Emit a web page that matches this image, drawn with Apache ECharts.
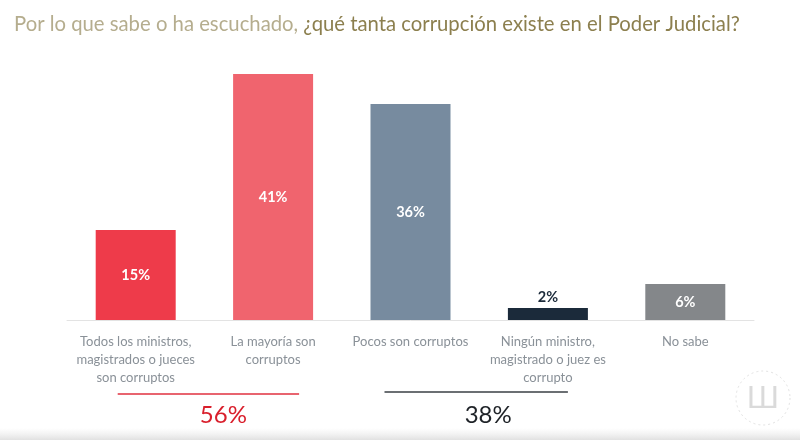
<!DOCTYPE html>
<html><head><meta charset="utf-8">
<script src="https://cdn.jsdelivr.net/npm/echarts@6/dist/echarts.min.js"></script>
<style>html,body{margin:0;padding:0;background:#fff}#c{width:800px;height:440px}</style>
</head><body><div id="c"></div>
<script>
const categories = ["Todos los ministros,\nmagistrados o jueces\nson corruptos", "La mayoría son\ncorruptos", "Pocos son corruptos", "Ningún ministro,\nmagistrado o juez es\ncorrupto", "No sabe"];
const values = [15, 41, 36, 2, 6];
const barColors = ["#EE3B4A", "#F0646E", "#778B9F", "#1B2A3A", "#84878A"];
const groupTotals = ["56%", "38%"];
const titleLight = "Por lo que sabe o ha escuchado, ";
const titleDark = "¿qué tanta corrupción existe en el Poder Judicial?";

const chart = echarts.init(document.getElementById('c'), null, {renderer: 'canvas'});
const font = "Lato, 'Open Sans', sans-serif";
chart.setOption({
  animation: false,
  backgroundColor: '#fff',
  title: {
    text: '{a|' + titleLight + '}{b|' + titleDark + '}',
    left: 9, top: 9,
    textStyle: {
      fontWeight: 'normal',
      rich: {
        a: {color: '#B5AD8E', fontSize: 20.3, fontWeight: 'normal', fontFamily: font},
        b: {color: '#8C7F4E', fontSize: 20.3, fontWeight: 'normal', fontFamily: font}
      }
    }
  },
  grid: {left: 67, right: 46, top: 50, bottom: 120},
  xAxis: {
    type: 'category', data: categories,
    axisLine: {lineStyle: {color: '#E3E3E3', width: 1}},
    axisTick: {show: false},
    axisLabel: {color: '#8A9198', fontSize: 13, fontFamily: font, lineHeight: 18, margin: 13, interval: 0}
  },
  yAxis: {type: 'value', min: 0, max: 45, show: false, splitLine: {show: false}},
  series: [{
    type: 'bar', barWidth: 80,
    data: values.map((v, i) => ({
      value: v,
      itemStyle: {color: barColors[i]},
      label: v < 4 ? {position: 'top', color: '#1B2A3A', distance: 3} : {position: 'inside', color: '#fff'}
    })),
    label: {show: true, formatter: '{c}%', fontSize: 14.5, fontWeight: 'bold', fontFamily: font}
  }]
});

function addGroups() {
  const p = i => chart.convertToPixel({xAxisIndex: 0}, i);
  const y = chart.convertToPixel({yAxisIndex: 0}, 0);
  const g1a = p(0) - 18, g1b = p(1) + 26;
  const g2a = p(2) - 26, g2b = p(3) + 20;
  chart.setOption({
    graphic: [
      {type: 'line', shape: {x1: g1a, y1: y + 74, x2: g1b, y2: y + 74}, style: {stroke: '#E0303F', lineWidth: 1.5}},
      {type: 'text', x: (g1a + g1b) / 2 + 15, y: y + 95, style: {text: groupTotals[0], fill: '#D91F2C', fontSize: 24, fontFamily: font, align: 'center', verticalAlign: 'middle'}},
      {type: 'line', shape: {x1: g2a, y1: y + 72, x2: g2b, y2: y + 72}, style: {stroke: '#3A3F45', lineWidth: 1.5}},
      {type: 'text', x: (g2a + g2b) / 2 + 12, y: y + 95, style: {text: groupTotals[1], fill: '#1E2227', fontSize: 24, fontFamily: font, align: 'center', verticalAlign: 'middle'}},
      {type: 'circle', shape: {cx: 763, cy: 398, r: 27}, style: {fill: 'none', stroke: '#E2E2E2', lineWidth: 1, lineDash: [2, 3]}},
      {type: 'text', x: 763, y: 398, style: {text: 'Ш', fill: '#DADADA', fontSize: 30, fontFamily: font, align: 'center', verticalAlign: 'middle'}},
      {type: 'rect', shape: {x: 0, y: 428, width: 800, height: 12}, style: {fill: new echarts.graphic.LinearGradient(0, 0, 0, 1, [{offset: 0, color: 'rgba(235,235,235,0)'}, {offset: 1, color: 'rgba(225,225,225,1)'}])}, silent: true}
    ]
  });
}
addGroups();
</script></body></html>
